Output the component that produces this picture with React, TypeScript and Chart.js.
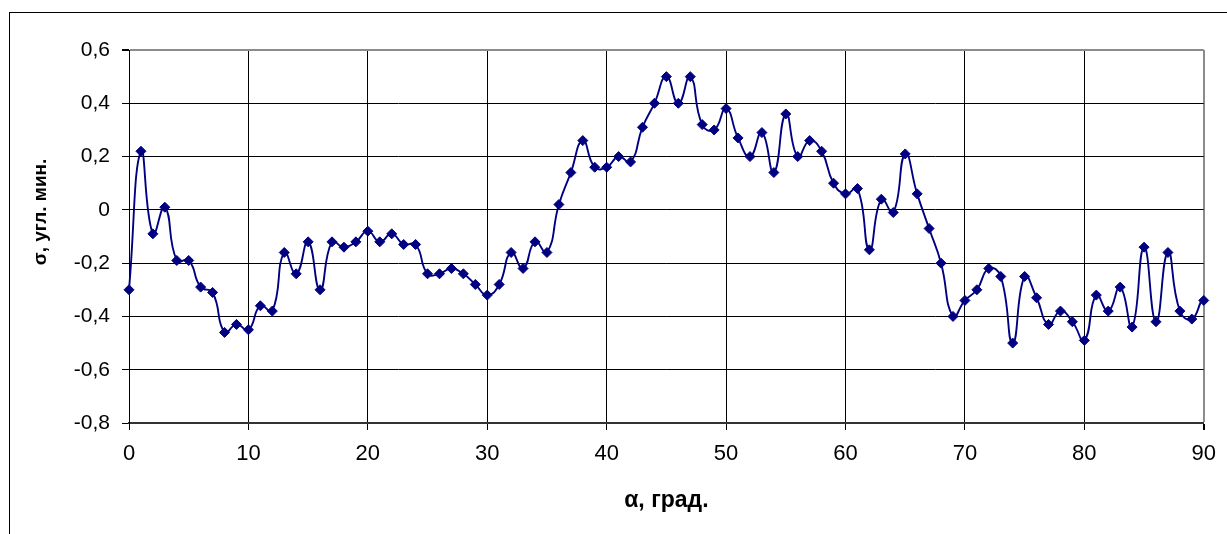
import React, { useEffect, useRef } from "react";
import { Chart, registerables } from "chart.js";

Chart.register(...registerables);

// α, degrees
const angles: number[] = [
  0, 1, 2, 3, 4, 5, 6, 7, 8, 9, 10, 11, 12, 13, 14, 15, 16, 17, 18, 19, 20,
  21, 22, 23, 24, 25, 26, 27, 28, 29, 30, 31, 32, 33, 34, 35, 36, 37, 38, 39, 40,
  41, 42, 43, 44, 45, 46, 47, 48, 49, 50, 51, 52, 53, 54, 55, 56, 57, 58, 59, 60,
  61, 62, 63, 64, 65, 66, 67, 68, 69, 70, 71, 72, 73, 74, 75, 76, 77, 78, 79, 80,
  81, 82, 83, 84, 85, 86, 87, 88, 89, 90, 91,
];

// σ, angular minutes
const sigma: number[] = [
  -0.30, 0.22, -0.09, 0.01, -0.19, -0.19, -0.29, -0.31, -0.46, -0.43, -0.45,
  -0.36, -0.38, -0.16, -0.24, -0.12, -0.30, -0.12, -0.14, -0.12, -0.08,
  -0.12, -0.09, -0.13, -0.13, -0.24, -0.24, -0.22, -0.24, -0.28, -0.32,
  -0.28, -0.16, -0.22, -0.12, -0.16, 0.02, 0.14, 0.26, 0.16, 0.16,
  0.20, 0.18, 0.31, 0.40, 0.50, 0.40, 0.50, 0.32, 0.30, 0.38,
  0.27, 0.20, 0.29, 0.14, 0.36, 0.20, 0.26, 0.22, 0.10, 0.06,
  0.08, -0.15, 0.04, -0.01, 0.21, 0.06, -0.07, -0.20, -0.40, -0.34,
  -0.30, -0.22, -0.25, -0.50, -0.25, -0.33, -0.43, -0.38, -0.42, -0.49,
  -0.32, -0.38, -0.29, -0.44, -0.14, -0.42, -0.16, -0.38, -0.41, -0.34,
  -0.42,
];

const xTicks: number[] = [0, 10, 20, 30, 40, 50, 60, 70, 80, 90];
const yTicks: number[] = [-0.8, -0.6, -0.4, -0.2, 0, 0.2, 0.4, 0.6];

const xTitle = "α, град.";
const yTitle = "σ, угл. мин.";

const FONT = "'Liberation Sans', Arial, sans-serif";

const yTitlePlugin = {
  id: "yTitlePlugin",
  afterDraw(chart: any) {
    const ctx = chart.ctx;
    ctx.save();
    ctx.translate(41, 212);
    ctx.rotate(-Math.PI / 2);
    ctx.font = `bold 19px ${FONT}`;
    ctx.fillStyle = "#000";
    ctx.textAlign = "center";
    ctx.textBaseline = "middle";
    ctx.fillText(yTitle, 0, 0);
    ctx.restore();
  },
};

export default function App() {
  const canvasRef = useRef<HTMLCanvasElement | null>(null);

  useEffect(() => {
    if (!canvasRef.current) return;
    const points = angles.map((a, i) => ({ x: a, y: sigma[i] }));
    const chart = new Chart(canvasRef.current, {
      type: "line",
      data: {
        datasets: [
          {
            data: points,
            borderColor: "#000080",
            backgroundColor: "#000080",
            borderWidth: 1.9,
            tension: 0.5,
            pointStyle: "rectRot",
            pointRadius: (c: any) => (c.dataIndex > 90 ? 0 : 5),
            pointBorderWidth: 1,
            pointBorderColor: "#000080",
            pointBackgroundColor: "#000080",
            clip: { left: 8, top: 8, right: 8, bottom: 8 } as any,
          },
        ],
      },
      options: {
        animation: false,
        responsive: false,
        maintainAspectRatio: false,
        layout: { padding: { top: 50, right: 22, left: 0, bottom: 0 } },
        plugins: {
          legend: { display: false },
          tooltip: { enabled: false },
        },
        scales: {
          x: {
            type: "linear",
            min: 0,
            max: 90,
            afterBuildTicks: (s: any) => {
              s.ticks = xTicks.map((v) => ({ value: v }));
            },
            afterFit: (s: any) => {
              s.height = 111;
            },
            ticks: {
              font: { family: FONT, size: 22 },
              color: "#000",
              padding: 11,
              maxRotation: 0,
              autoSkip: false,
            },
            grid: {
              color: (c: any) => (c.tick && c.tick.value === 90 ? "#8c8c8c" : "#000"),
              lineWidth: (c: any) => (c.tick && c.tick.value === 90 ? 2 : 1),
              tickColor: "#000",
              tickLength: 7,
            },
            border: { color: "#333", width: 2 },
            title: {
              display: true,
              text: xTitle,
              font: { family: FONT, size: 23, weight: "bold" },
              color: "#000",
              padding: { top: 0, bottom: 20 },
            },
          },
          y: {
            type: "linear",
            min: -0.8,
            max: 0.6,
            afterBuildTicks: (s: any) => {
              s.ticks = yTicks.map((v) => ({ value: v }));
            },
            afterFit: (s: any) => {
              s.width = 129;
            },
            ticks: {
              font: { family: FONT, size: 21 },
              color: "#000",
              padding: 12,
              callback: (v: any) => {
                const n = Math.round(Number(v) * 10) / 10;
                return n === 0 ? "0" : n.toFixed(1).replace(".", ",");
              },
            },
            grid: {
              color: (c: any) =>
                c.tick && Math.abs(c.tick.value - 0.6) < 1e-6 ? "#8c8c8c" : "#000",
              lineWidth: (c: any) =>
                c.tick && Math.abs(c.tick.value - 0.6) < 1e-6 ? 2 : 1,
              tickColor: "#000",
              tickLength: 7,
            },
            border: { color: "#000", width: 1 },
          },
        },
      },
      plugins: [yTitlePlugin],
    } as any);
    return () => chart.destroy();
  }, []);

  return (
    <div
      style={{
        position: "fixed",
        left: 0,
        top: 0,
        width: 1227,
        height: 534,
        background: "#fff",
        overflow: "hidden",
      }}
    >
      <div
        style={{
          position: "absolute",
          left: 9,
          top: 12,
          width: 1300,
          height: 600,
          borderLeft: "1px solid #000",
          borderTop: "1px solid #000",
        }}
      />
      <canvas
        ref={canvasRef}
        width={1227}
        height={534}
        style={{ position: "absolute", left: 0, top: 0, display: "block" }}
      />
    </div>
  );
}
